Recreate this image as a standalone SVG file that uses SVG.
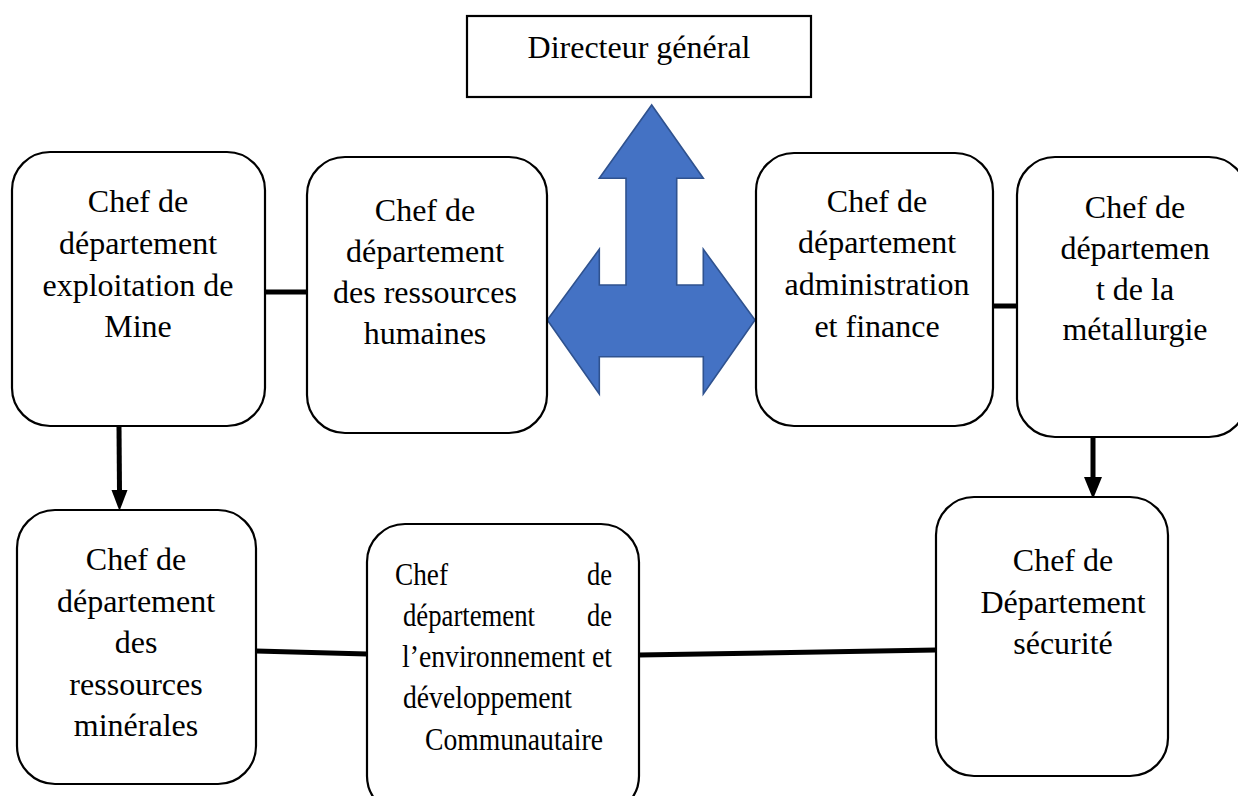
<svg xmlns="http://www.w3.org/2000/svg" width="1238" height="796" viewBox="0 0 1238 796">
<style>
.box{fill:#fff;stroke:#000;stroke-width:2.2}
.t{font-family:"Liberation Serif","Times New Roman",serif;font-size:32px;fill:#000}
.c{text-anchor:middle}
.e{text-anchor:end}
.conn{stroke:#000;stroke-width:5;fill:none}
</style>
<defs>
<marker id="ah" markerUnits="userSpaceOnUse" markerWidth="18" markerHeight="22" refX="9" refY="0" orient="auto" viewBox="0 0 18 22">
<path d="M0,0 L18,0 L9,22 Z" fill="#000"/>
</marker>
</defs>
<rect width="1238" height="796" fill="#fff"/>

<g id="connectors">
<line class="conn" x1="265" y1="292" x2="307" y2="292"/>
<line class="conn" x1="993" y1="306" x2="1017" y2="306" stroke-width="7"/>
<line class="conn" x1="119" y1="426" x2="119.5" y2="492"/>
<polygon points="111.5,490 127.5,490 119.5,511" fill="#000"/>
<line class="conn" x1="1093" y1="437" x2="1093" y2="479" stroke-width="6"/>
<polygon points="1084,477 1102,477 1093,499" fill="#000"/>
<line class="conn" x1="256" y1="651" x2="367" y2="654"/>
<line class="conn" x1="639" y1="655" x2="936" y2="650"/>
</g>

<g id="node-directeur">
<rect x="467" y="16" width="344" height="81" fill="#fff" stroke="#000" stroke-width="2.2"/>
<text class="t c" x="639" y="58">Directeur général</text>
</g>

<g id="node-blue-arrow">
<path d="M651.7,105 L703.3,178.3 L676.7,178.3 L676.7,285 L703.3,285 L703.3,249.3 L755,320 L703.3,394 L703.3,356.7 L599.3,356.7 L599.3,394 L547.3,320 L599.3,249.3 L599.3,285 L626,285 L626,178.3 L599.3,178.3 Z" fill="#4472C4" stroke="#2F528F" stroke-width="1.6" stroke-linejoin="miter"/>
</g>

<g id="node-exploitation">
<rect class="box" x="12" y="152" width="253" height="274" rx="38" ry="38"/>
<text class="t c" x="138" y="212">Chef de</text>
<text class="t c" x="138" y="254">département</text>
<text class="t c" x="138" y="296">exploitation de</text>
<text class="t c" x="138" y="337">Mine</text>
</g>

<g id="node-rh">
<rect class="box" x="307" y="157" width="240" height="276" rx="38" ry="38"/>
<text class="t c" x="425" y="221">Chef de</text>
<text class="t c" x="425" y="262">département</text>
<text class="t c" x="425" y="303">des ressources</text>
<text class="t c" x="425" y="344">humaines</text>
</g>

<g id="node-admin">
<rect class="box" x="756" y="153" width="237" height="273" rx="38" ry="38"/>
<text class="t c" x="877" y="212">Chef de</text>
<text class="t c" x="877" y="253">département</text>
<text class="t c" x="877" y="295">administration</text>
<text class="t c" x="877" y="337">et finance</text>
</g>

<g id="node-metallurgie">
<rect class="box" x="1017" y="157" width="230" height="280" rx="38" ry="38"/>
<text class="t c" x="1135" y="218">Chef de</text>
<text class="t c" x="1135" y="259">départemen</text>
<text class="t c" x="1135" y="300">t de la</text>
<text class="t c" x="1135" y="340">métallurgie</text>
</g>

<g id="node-mineral">
<rect class="box" x="17" y="510" width="239" height="274" rx="38" ry="38"/>
<text class="t c" x="136" y="570">Chef de</text>
<text class="t c" x="136" y="612">département</text>
<text class="t c" x="136" y="653">des</text>
<text class="t c" x="136" y="695">ressources</text>
<text class="t c" x="136" y="736">minérales</text>
</g>

<g id="node-environnement">
<rect class="box" x="367" y="524" width="272" height="290" rx="38" ry="38"/>
<text class="t" x="395" y="585" textLength="53" lengthAdjust="spacingAndGlyphs">Chef</text>
<text class="t" x="587" y="585" textLength="25" lengthAdjust="spacingAndGlyphs">de</text>
<text class="t" x="403" y="626" textLength="132" lengthAdjust="spacingAndGlyphs">département</text>
<text class="t" x="587" y="626" textLength="25" lengthAdjust="spacingAndGlyphs">de</text>
<text class="t" x="402" y="667" textLength="210" lengthAdjust="spacingAndGlyphs">l’environnement et</text>
<text class="t" x="403" y="708" textLength="169" lengthAdjust="spacingAndGlyphs">développement</text>
<text class="t" x="425" y="750" textLength="178" lengthAdjust="spacingAndGlyphs">Communautaire</text>
</g>

<g id="node-securite">
<rect class="box" x="936" y="497" width="232" height="279" rx="38" ry="38"/>
<text class="t c" x="1063" y="571">Chef de</text>
<text class="t c" x="1063" y="613">Département</text>
<text class="t c" x="1063" y="654">sécurité</text>
</g>
</svg>
